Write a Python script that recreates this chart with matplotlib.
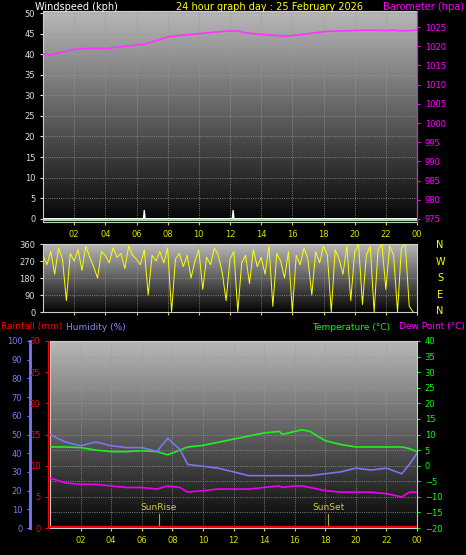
import numpy as np
import matplotlib
matplotlib.use("Agg")
import matplotlib.pyplot as plt

# ---- data ----
baro_hours = [0, 0.5, 1, 2, 3, 4, 5, 6, 6.5, 7, 7.5, 8, 9, 10, 11, 12, 12.5, 13, 14, 15, 15.5, 16, 17, 18, 19, 20, 21, 22, 22.5, 23, 24]
baro_hpa = [1018, 1017.7, 1018.3, 1019.2, 1019.5, 1019.4, 1019.9, 1020.3, 1020.5, 1021.2, 1021.7, 1022.5, 1022.9, 1023.3, 1023.7, 1024.0, 1024.0, 1023.5, 1023.1, 1022.8, 1022.6, 1022.8, 1023.3, 1023.8, 1024.0, 1024.1, 1024.2, 1024.1, 1024.2, 1024.0, 1024.2]

wind_hours = [0, 6.45, 6.5, 6.55, 12.15, 12.2, 12.25, 24]
wind_kph = [0, 0, 2, 0, 0, 2, 0, 0]

dir_step = 0.25
wind_dir = [300, 250, 320, 200, 340, 280, 60, 310, 270, 330, 220, 350, 290, 240, 180, 320,
            300, 260, 340, 290, 310, 230, 350, 300, 280, 250, 330, 90, 300, 270, 320, 260,
            340, 0, 280, 310, 240, 300, 180, 270, 330, 120, 290, 250, 340, 300, 210, 60,
            280, 320, 0, 260, 300, 150, 330, 240, 290, 200, 350, 30, 310, 270, 180, 320,
            0, 300, 250, 340, 280, 90, 320, 260, 350, 300, 0, 330, 280, 200, 350, 60,
            320, 360, 40, 300, 350, 0, 330, 360, 120, 350, 300, 0, 340, 360, 30, 0]

th_hours = [0, 1, 2, 3, 4, 5, 6, 7, 7.7, 8.5, 9, 10, 11, 12, 13, 14, 15, 15.2, 16, 16.5, 17, 18, 19, 20, 21, 22, 23, 23.5, 24]
temp_c = [6, 6, 5.8, 5, 4.5, 4.5, 4.8, 4.5, 3.5, 5, 6, 6.5, 7.5, 8.5, 9.5, 10.5, 11, 10, 11, 11.5, 11, 8, 6.8, 6, 6, 6, 6, 5.5, 4.5]
hum_pct = [50, 46, 44, 46, 44, 43, 43, 41, 48, 42, 34, 33, 32, 30, 28, 28, 28, 28, 28, 28, 28, 29, 30, 32, 31, 32, 29, 34, 40]
dew_c = [-4, -5.5, -6, -6, -6.5, -7, -7, -7.5, -6.5, -7, -8.5, -8, -7.5, -7.5, -7.5, -7, -6.5, -7, -6.5, -6.5, -7, -8, -8.5, -8.5, -8.5, -9, -10, -8.5, -8.5]

rain_hours = [0, 24]
rain_mm = [0, 0]
sunrise, sunset = 7.1, 18.2
hour_ticks = list(range(2, 25, 2))
hour_labels = ["%02d" % (h % 24) for h in hour_ticks]

W, H = 466, 555
fig = plt.figure(figsize=(W / 100, H / 100), dpi=100, facecolor="black")
plt.rcParams["font.family"] = "DejaVu Sans"


def box(x0, y0, x1, y1):
    return [x0 / W, 1 - y1 / H, (x1 - x0) / W, (y1 - y0) / H]


def style(ax, ylim, yticks, ycol="#dddddd"):
    grad = np.linspace(0.72, 0.02, 256).reshape(-1, 1)
    ax.imshow(grad, cmap="gray", vmin=0, vmax=1, aspect="auto",
              extent=[0, 24, ylim[0], ylim[1]], zorder=0)
    ax.set_xlim(0, 24)
    ax.set_ylim(*ylim)
    ax.set_facecolor("black")
    ax.set_xticks(hour_ticks)
    ax.set_xticklabels(hour_labels, color="#dddd00", fontsize=6)
    ax.set_yticks(yticks)
    ax.tick_params(axis="y", colors=ycol, labelsize=6, length=2)
    ax.tick_params(axis="x", length=2, colors="#dddd00")
    ax.grid(True, color="#999999", lw=0.6, ls=":")
    for s in ax.spines.values():
        s.set_color("#cccccc")


# ---- top: wind speed and barometer ----
ax1 = fig.add_axes(box(43, 11, 417, 222))
style(ax1, (-0.8, 50.5), range(0, 51, 5))
ax1.plot(wind_hours, wind_kph, color="white", lw=1, zorder=3)
ax1.axhline(-0.4, color="#99dd99", lw=1.5, zorder=3)
ax1b = ax1.twinx()
ax1b.set_ylim(974.2, 1029.2)
ax1b.set_yticks(range(975, 1026, 5))
ax1b.tick_params(colors="#ff00ff", labelsize=6, length=2)
ax1b.plot(baro_hours, baro_hpa, color="#ff33ff", lw=1.2)
for s in ax1b.spines.values():
    s.set_visible(False)
ax1b.spines["right"].set_visible(True)
ax1b.spines["right"].set_color("#ff00ff")
fig.text(35 / W, 1 - 7 / H, "Windspeed (kph)", color="white", fontsize=7, va="center")
fig.text(270 / W, 1 - 7 / H, "24 hour graph day : 25 February 2026", color="#ffff00",
         fontsize=7, va="center", ha="center")
fig.text(464 / W, 1 - 7 / H, "Barometer (hpa)", color="#ff00ff", fontsize=7, va="center", ha="right")

# ---- middle: wind direction ----
ax2 = fig.add_axes(box(43, 244, 417, 312))
style(ax2, (0, 360), range(0, 361, 90))
ax2.set_xticklabels([])
dir_hours = np.arange(len(wind_dir)) * dir_step
ax2.plot(dir_hours, wind_dir, color="#ffff00", lw=0.7, zorder=3)
for i, c in enumerate("NWSEN"):
    fig.text(440 / W, 1 - (245 + i * 16.5) / H, c, color="#ffff00", fontsize=7, ha="center", va="center")

# ---- bottom: temperature, humidity, dew point, rain ----
ax3 = fig.add_axes(box(50, 341, 417, 528))
style(ax3, (-20, 40), range(-20, 41, 5), ycol="#00ff00")
ax3.yaxis.tick_right()
ax3.plot(th_hours, temp_c, color="#22ee22", lw=1.2, zorder=3)
ax3.plot(th_hours, dew_c, color="#ee00ee", lw=1.2, zorder=3)
hum_as_t = [h * 0.6 - 20 for h in hum_pct]
ax3.plot(th_hours, hum_as_t, color="#7777ee", lw=1.2, zorder=3)
ax3.plot(rain_hours, [r * 2 - 19.8 for r in rain_mm], color="#ff0000", lw=2.5, zorder=4)
for t, lab in [(sunrise, "SunRise"), (sunset, "SunSet")]:
    ax3.plot([t, t], [-20, -15.5], color="#aaaa33", lw=0.8, zorder=3)
    ax3.text(t, -13.5, lab, color="#cccc44", fontsize=6.5, ha="center", va="center", zorder=4)

axh = fig.add_axes(box(30, 341, 30.5, 528))
axh.set_ylim(0, 100)
axh.set_yticks(range(0, 101, 10))
axh.set_xticks([])
axh.tick_params(colors="#7777ff", labelsize=6, length=2)
for s in axh.spines.values():
    s.set_visible(False)
axh.spines["left"].set_visible(True)
axh.spines["left"].set_color("#7777ff")
axh.spines["left"].set_linewidth(2)

axr = fig.add_axes(box(48, 341, 48.5, 528))
axr.set_ylim(0, 30)
axr.set_yticks(range(0, 31, 5))
axr.set_xticks([])
axr.tick_params(colors="#ff0000", labelsize=6, length=2)
for s in axr.spines.values():
    s.set_visible(False)
axr.spines["left"].set_visible(True)
axr.spines["left"].set_color("#ff0000")

fig.text(1 / W, 1 - 327 / H, "Rainfall (mm)", color="#ff0000", fontsize=6.5, va="center")
fig.text(66 / W, 1 - 327 / H, "Humidity (%)", color="#8888ff", fontsize=6.5, va="center")
fig.text(312 / W, 1 - 327 / H, "Temperature (°C)", color="#00ff00", fontsize=6.5, va="center")
fig.text(465 / W, 1 - 327 / H, "Dew Point (°C)", color="#ff00ff", fontsize=6.5, va="center", ha="right")

fig.savefig("out.png", dpi=100, facecolor="black")
